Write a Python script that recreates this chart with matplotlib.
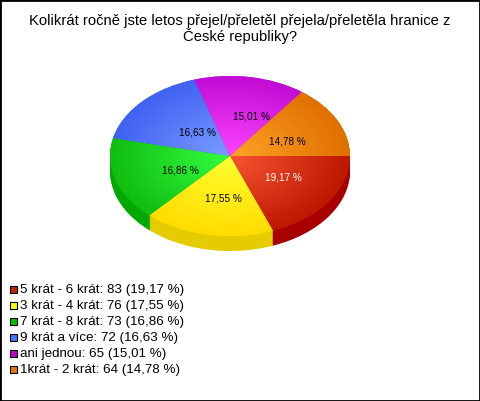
import numpy as np
import matplotlib
matplotlib.use("Agg")
import matplotlib.pyplot as plt
from matplotlib.patches import Rectangle

plt.rcParams['font.family'] = ['Liberation Sans', 'DejaVu Sans']

title = "Kolikrát ročně jste letos přejel/přeletěl přejela/přeletěla hranice z\nČeské republiky?"
names = ["5 krát - 6 krát", "3 krát - 4 krát", "7 krát - 8 krát", "9 krát a více", "ani jednou", "1krát - 2 krát"]
values = [83, 76, 73, 72, 65, 64]

inner_colors = ["#f85533", "#ffff30", "#33ff40", "#7c9dff", "#ff44ff", "#ffa428"]
outer_colors = ["#bd1800", "#ffdc00", "#10bd10", "#3f62f2", "#c00cd4", "#e07000"]
side_colors = ["#a80000", "#e4cc00", "#00a800", "#2040c0", "#9000a0", "#b05000"]
swatch_colors = ["#c42200", "#ffff00", "#00c000", "#4477ff", "#c000d0", "#e87800"]
label_colors = ["white", "black", "black", "black", "black", "black"]

# pie geometry in reference pixels
CX, CY, RX, RY, DEPTH = 230, 156, 120, 80, 15
W, H = 480, 401
# text nudges in pixels, the labels are not quite on the mid radius
nudge = [(4, -1), (4, 3), (8, 2), (12, 4), (11, 0), (4, 3)]


def px(x):
    return (x - CX) / RX


def py(y):
    return (CY - y) / RY


def fmt(p):
    return "{:.2f} %".format(p).replace(".", ",")


fig = plt.figure(figsize=(W / 100, H / 100), dpi=100, facecolor="white")
ax = fig.add_axes([0, 0, 1, 1])

# side wall, stacked from the bottom up
for d in range(DEPTH, 0, -1):
    ax.pie(values, colors=side_colors, startangle=0, counterclock=False,
           center=(0, -d / RY), wedgeprops={"linewidth": 0})

wedges, _, autotexts = ax.pie(values, colors=outer_colors, startangle=0, counterclock=False,
                              autopct=fmt, pctdistance=0.5, wedgeprops={"linewidth": 0},
                              textprops={"fontsize": 7.2})

# shaded top: light in the middle, dark at the rim
gx, gy = np.meshgrid(np.linspace(-1, 1, 300), np.linspace(-1, 1, 300))
rr = np.clip(np.hypot(gx, gy), 0, 1)[..., None]
for w, c1, c2 in zip(wedges, inner_colors, outer_colors):
    a = np.array(matplotlib.colors.to_rgb(c1))
    b = np.array(matplotlib.colors.to_rgb(c2))
    img = ax.imshow(a * (1 - rr) + b * rr, extent=(-1, 1, -1, 1), origin="lower",
                    aspect="auto", zorder=2, interpolation="bilinear")
    img.set_clip_path(w)

for t, col, (nx, ny) in zip(autotexts, label_colors, nudge):
    x, y = t.get_position()
    t.set_position((x + nx / RX, y - ny / RY))
    t.set_color(col)
    t.set_zorder(3)

ax.set_aspect("auto")
ax.set_xlim(px(0), px(W))
ax.set_ylim(py(H), py(0))
ax.set_axis_off()

ax.text(px(240), py(29), title, ha="center", va="center", fontsize=10.6,
        linespacing=1.07, color="black", zorder=4)

total = sum(values)
row_y = [289.5, 305.5, 321.5, 337.5, 353.5, 369.5]
for name, v, col, y in zip(names, values, swatch_colors, row_y):
    ax.add_patch(Rectangle((px(9.5), py(y + 3.5)), 7 / RX, 7 / RY, facecolor=col,
                           edgecolor="black", linewidth=0.8, zorder=4))
    ax.text(px(20), py(y), "{}: {} ({})".format(name, v, fmt(100 * v / total)),
            ha="left", va="center", fontsize=9.6, color="black", zorder=4)

fig.add_artist(Rectangle((0, 0), 1, 1, transform=fig.transFigure, fill=False,
                         edgecolor="black", linewidth=2))

fig.savefig("out.png", dpi=100, facecolor="white")
